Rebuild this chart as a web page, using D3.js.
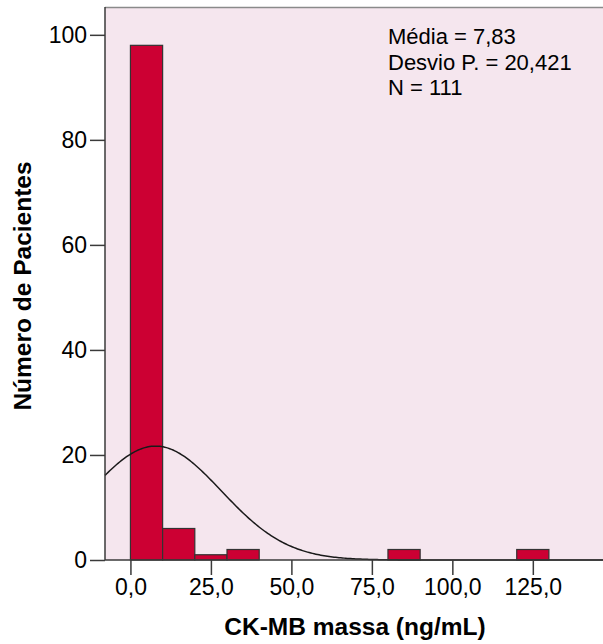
<!DOCTYPE html>
<html>
<head>
<meta charset="utf-8">
<script src="https://cdn.jsdelivr.net/npm/d3@7"></script>
<style>
  html, body { margin: 0; padding: 0; background: #ffffff; }
  svg { display: block; }
  text { font-family: "Liberation Sans", Arial, sans-serif; fill: #000; }
</style>
</head>
<body>
<script>
// Histogram of CK-MB mass with fitted normal curve
const binStarts = [0, 10, 20, 30, 80, 120];
const binEnds   = [10, 20, 30, 40, 90, 130];
const counts    = [98, 6, 1, 2, 2, 2];
const xTicks = [0, 25, 50, 75, 100, 125];
const yTicks = [0, 20, 40, 60, 80, 100];
const statsLines = ["Média = 7,83", "Desvio P. = 20,421", "N = 111"];
const mean = 7.83, sd = 20.421, n = 111, binWidth = 10;
const xTitle = "CK-MB massa (ng/mL)";
const yTitle = "Número de Pacientes";

const W = 603, H = 644;
const plot = { left: 105, right: 603, top: 7, bottom: 560 };

const svg = d3.select("body").append("svg").attr("width", W).attr("height", H);

const x = d3.scaleLinear().domain([-7.9, 146.8]).range([plot.left, plot.right]);
const y = d3.scaleLinear().domain([0, 105.3]).range([plot.bottom, plot.top]);

// plot background
svg.append("rect")
  .attr("x", plot.left).attr("y", plot.top)
  .attr("width", plot.right - plot.left).attr("height", plot.bottom - plot.top)
  .attr("fill", "#f5e6ee");

// top frame line
svg.append("line")
  .attr("x1", plot.left).attr("x2", plot.right)
  .attr("y1", plot.top + 0.5).attr("y2", plot.top + 0.5)
  .attr("stroke", "#8a8a8a").attr("stroke-width", 1.5);

// bars
svg.append("g").selectAll("rect").data(counts).join("rect")
  .attr("x", (d, i) => x(binStarts[i]))
  .attr("width", (d, i) => x(binEnds[i]) - x(binStarts[i]))
  .attr("y", d => y(d))
  .attr("height", d => y(0) - y(d))
  .attr("fill", "#cc0033")
  .attr("stroke", "#333333")
  .attr("stroke-width", 1.2);

// fitted normal curve
const scaleN = n * binWidth / (sd * Math.sqrt(2 * Math.PI));
const [x0, x1] = x.domain();
const curvePts = d3.range(0, 301).map(k => {
  const v = x0 + (x1 - x0) * k / 300;
  const z = (v - mean) / sd;
  return [v, scaleN * Math.exp(-0.5 * z * z)];
});
svg.append("path")
  .datum(curvePts)
  .attr("fill", "none")
  .attr("stroke", "#1a1a1a")
  .attr("stroke-width", 1.5)
  .attr("d", d3.line().x(d => x(d[0])).y(d => y(d[1])));

// y axis
const yAxis = svg.append("g")
  .attr("transform", `translate(${plot.left},0)`)
  .call(d3.axisLeft(y).tickValues(yTicks).tickSize(15).tickPadding(3).tickFormat(d3.format("d")));
yAxis.select(".domain").remove();
yAxis.selectAll(".tick line").attr("stroke", "#3a3a3a").attr("stroke-width", 1.5);
yAxis.selectAll(".tick text")
  .style("font-family", "'Liberation Sans', Arial, sans-serif")
  .style("font-size", "23px").attr("fill", "#000");

// x axis
const fmtX = v => d3.format(".1f")(v).replace(".", ",");
const xAxis = svg.append("g")
  .attr("transform", `translate(0,${plot.bottom})`)
  .call(d3.axisBottom(x).tickValues(xTicks).tickSize(15).tickPadding(4).tickFormat(fmtX));
xAxis.select(".domain").remove();
xAxis.selectAll(".tick line").attr("stroke", "#3a3a3a").attr("stroke-width", 1.5);
xAxis.selectAll(".tick text")
  .style("font-family", "'Liberation Sans', Arial, sans-serif")
  .style("font-size", "23px").attr("fill", "#000");

// axis lines
svg.append("line")
  .attr("x1", plot.left).attr("x2", plot.left)
  .attr("y1", plot.top).attr("y2", plot.bottom)
  .attr("stroke", "#3a3a3a").attr("stroke-width", 1.5);
svg.append("line")
  .attr("x1", plot.left).attr("x2", plot.right)
  .attr("y1", plot.bottom).attr("y2", plot.bottom)
  .attr("stroke", "#3a3a3a").attr("stroke-width", 1.5);

// statistics box: one line per statistic
svg.append("text")
  .attr("x", 388).attr("y", 44)
  .style("font-size", "22px")
  .selectAll("tspan").data(statsLines).join("tspan")
  .attr("x", 388)
  .attr("dy", (d, i) => i === 0 ? 0 : 25.5)
  .text(d => d);

// axis titles
svg.append("text")
  .attr("x", 355).attr("y", 635)
  .attr("text-anchor", "middle")
  .style("font-size", "24.5px").style("font-weight", "bold")
  .text(xTitle);
svg.append("text")
  .attr("transform", "translate(31,286) rotate(-90)")
  .attr("text-anchor", "middle")
  .style("font-size", "24.5px").style("font-weight", "bold")
  .text(yTitle);
</script>
</body>
</html>
